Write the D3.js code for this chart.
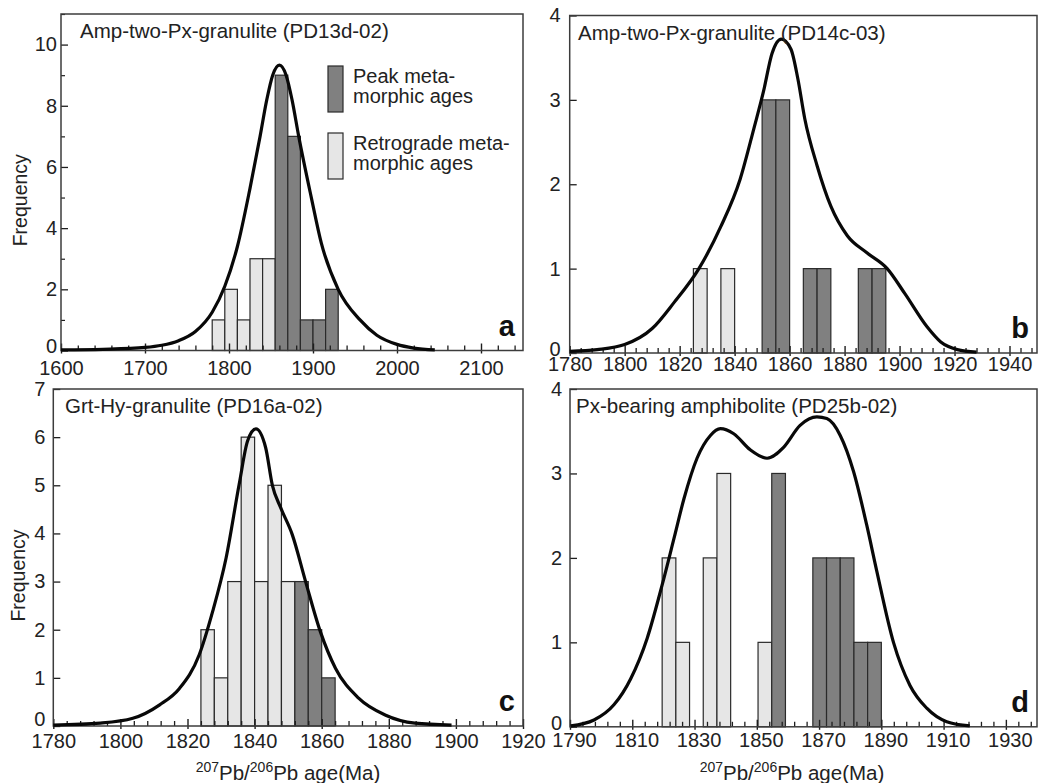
<!DOCTYPE html>
<html>
<head>
<meta charset="utf-8">
<script src="https://cdn.jsdelivr.net/npm/d3@7"></script>
<style>
  html, body { margin: 0; padding: 0; background: #fff; }
  svg { display: block; font-family: "Liberation Sans", Arial, sans-serif; }
</style>
</head>
<body>
<script>
// ---------- Panel a: Amp-two-Px-granulite (PD13d-02) ----------
const titleA = "Amp-two-Px-granulite (PD13d-02)";
const binStartA = [1780, 1795, 1810, 1825, 1840, 1855, 1870, 1885, 1900, 1915];
const binWidthA = 15;
const countA = [1, 2, 1, 3, 3, 9, 7, 1, 1, 2];
const typeA = ["R", "R", "R", "R", "R", "P", "P", "P", "P", "P"];
const curveAgeA = [1600, 1650, 1700, 1720, 1740, 1760, 1780, 1795, 1810, 1825, 1837, 1845, 1852, 1860, 1868, 1875, 1883, 1898, 1910, 1930, 1956, 1976, 2000, 2020, 2045];
const curveFreqA = [0.02, 0.04, 0.1, 0.17, 0.32, 0.62, 1.25, 2.1, 3.4, 5.3, 7.0, 8.2, 9.0, 9.33, 9.0, 8.2, 7.0, 5.0, 3.5, 2.0, 1.0, 0.5, 0.2, 0.08, 0.02];
const xTicksA = [1600, 1700, 1800, 1900, 2000, 2100];
const yTicksA = [0, 2, 4, 6, 8, 10];

// ---------- Panel b: Amp-two-Px-granulite (PD14c-03) ----------
const titleB = "Amp-two-Px-granulite (PD14c-03)";
const binStartB = [1825, 1835, 1850, 1855, 1865, 1870, 1885, 1890];
const binWidthB = 5;
const countB = [1, 1, 3, 3, 1, 1, 1, 1];
const typeB = ["R", "R", "P", "P", "P", "P", "P", "P"];
const curveAgeB = [1780, 1790, 1800, 1810, 1818, 1827, 1835, 1842, 1847, 1850.5, 1853.6, 1857, 1860.5, 1863, 1865.5, 1870, 1875, 1881, 1888, 1895.5, 1902, 1910, 1915, 1921, 1928];
const curveFreqB = [0.02, 0.04, 0.1, 0.29, 0.6, 1.0, 1.5, 2.06, 2.66, 3.1, 3.55, 3.72, 3.6, 3.25, 2.78, 2.22, 1.74, 1.39, 1.19, 1.0, 0.7, 0.31, 0.13, 0.04, 0.01];
const xTicksB = [1780, 1800, 1820, 1840, 1860, 1880, 1900, 1920, 1940];
const yTicksB = [0, 1, 2, 3, 4];

// ---------- Panel c: Grt-Hy-granulite (PD16a-02) ----------
const titleC = "Grt-Hy-granulite (PD16a-02)";
const binStartC = [1824, 1828, 1832, 1836, 1840, 1844, 1848, 1852, 1856, 1860];
const binWidthC = 4;
const countC = [2, 1, 3, 6, 3, 5, 3, 3, 2, 1];
const typeC = ["R", "R", "R", "R", "R", "R", "R", "P", "P", "P"];
const curveAgeC = [1780, 1794, 1803.7, 1811.7, 1817.6, 1823.5, 1827.5, 1831.5, 1835.4, 1837.9, 1840.4, 1843.3, 1845.3, 1847.8, 1851.2, 1855.2, 1859.6, 1864.1, 1871, 1878.9, 1887.8, 1898.7];
const curveFreqC = [0.02, 0.06, 0.16, 0.44, 0.78, 1.48, 2.38, 3.49, 5.02, 5.92, 6.17, 5.78, 5.0, 4.53, 3.98, 3.0, 1.96, 1.2, 0.58, 0.23, 0.06, 0.02];
const xTicksC = [1780, 1800, 1820, 1840, 1860, 1880, 1900, 1920];
const yTicksC = [0, 1, 2, 3, 4, 5, 6, 7];

// ---------- Panel d: Px-bearing amphibolite (PD25b-02) ----------
const titleD = "Px-bearing amphibolite (PD25b-02)";
const binStartD = [1819.6, 1824.0, 1832.8, 1837.2, 1850.4, 1854.8, 1868.0, 1872.4, 1876.8, 1881.2, 1885.6];
const binWidthD = 4.4;
const countD = [2, 1, 2, 3, 1, 3, 2, 2, 2, 1, 1];
const typeD = ["R", "R", "R", "R", "R", "P", "P", "P", "P", "P", "P"];
const curveAgeD = [1790.2, 1797.7, 1804.1, 1809.5, 1814.8, 1819.6, 1823.4, 1826.6, 1830.8, 1835.1, 1838.3, 1842.6, 1847.9, 1853.3, 1858.6, 1863.9, 1869.3, 1872.5, 1876.8, 1881.1, 1885.3, 1888.5, 1893.9, 1899.2, 1904.6, 1911, 1918.4];
const curveFreqD = [0.01, 0.08, 0.26, 0.57, 1.05, 1.68, 2.23, 2.7, 3.18, 3.45, 3.53, 3.47, 3.28, 3.18, 3.31, 3.57, 3.67, 3.65, 3.45, 3.02, 2.39, 1.85, 1.0, 0.49, 0.22, 0.06, 0.01];
const xTicksD = [1790, 1810, 1830, 1850, 1870, 1890, 1910, 1930];
const yTicksD = [0, 1, 2, 3, 4];

// Legend entries and shared axis captions
const legendLabels = [["Peak meta-", "morphic ages"], ["Retrograde meta-", "morphic ages"]];
const legendTypes = ["P", "R"];
const yAxisTitle = "Frequency";

const FILL = { P: "#808080", R: "#e6e6e6" };
const INK = "#1e1e1e";

const svg = d3.select("body").append("svg")
  .attr("width", 1038).attr("height", 783);
svg.append("rect").attr("width", 1038).attr("height", 783).attr("fill", "#fff");

const panels = [
  { letter: "a", title: titleA, starts: binStartA, width: binWidthA, counts: countA, types: typeA,
    cx: curveAgeA, cy: curveFreqA, xTicks: xTicksA, yTicks: yTicksA,
    xDomain: [1600, 2150], yDomain: [0, 11], left: 61, right: 523, top: 14, bottom: 350.5,
    minorX: 20, minorY: 1, xPad: 10, yPad: 4, zeroShift: -4, titleX: 80,
    freqX: 27, xLabelShift: 0, legend: true },
  { letter: "b", title: titleB, starts: binStartB, width: binWidthB, counts: countB, types: typeB,
    cx: curveAgeB, cy: curveFreqB, xTicks: xTicksB, yTicks: yTicksB,
    xDomain: [1780, 1950], yDomain: [0, 4], left: 569.7, right: 1037, top: 15.5, bottom: 353,
    minorX: 4, minorY: 0, xPad: 4, yPad: 9, zeroShift: -4, titleX: 578, xLabelShift: 0 },
  { letter: "c", title: titleC, starts: binStartC, width: binWidthC, counts: countC, types: typeC,
    cx: curveAgeC, cy: curveFreqC, xTicks: xTicksC, yTicks: yTicksC,
    xDomain: [1780, 1920], yDomain: [0, 7], left: 53.3, right: 523, top: 389, bottom: 726,
    minorX: 4, minorY: 0, xPad: 8, yPad: 8, zeroShift: -7, titleX: 65,
    freqX: 25, xLabelShift: 0, xTitleX: 288 },
  { letter: "d", title: titleD, starts: binStartD, width: binWidthD, counts: countD, types: typeD,
    cx: curveAgeD, cy: curveFreqD, xTicks: xTicksD, yTicks: yTicksD,
    xDomain: [1790, 1940], yDomain: [0, 4], left: 570, right: 1037, top: 389, bottom: 726.8,
    minorX: 4, minorY: 0, xPad: 6, yPad: 8, zeroShift: -4, titleX: 576,
    xLabelShift: 4, xTitleX: 792 }
];

panels.forEach(p => {
  const x = d3.scaleLinear().domain(p.xDomain).range([p.left, p.right]);
  const y = d3.scaleLinear().domain(p.yDomain).range([p.bottom, p.top]);
  const g = svg.append("g");

  // histogram bars
  const bars = p.starts.map((s, i) => ({ s, n: p.counts[i], t: p.types[i] }));
  g.append("g").selectAll("rect").data(bars).join("rect")
    .attr("x", d => x(d.s))
    .attr("y", d => y(d.n))
    .attr("width", d => x(d.s + p.width) - x(d.s))
    .attr("height", d => y(0) - y(d.n))
    .attr("fill", d => FILL[d.t])
    .attr("stroke", "#2a2a2a")
    .attr("stroke-width", 1.2);

  // minor x ticks (inward)
  const minorVals = d3.range(p.xDomain[0], p.xDomain[1] + 1e-6, p.minorX)
    .filter(v => !p.xTicks.includes(v));
  g.append("g")
    .attr("transform", `translate(0,${p.bottom})`)
    .call(d3.axisBottom(x).tickValues(minorVals).tickSizeInner(-5).tickSizeOuter(0).tickFormat(""))
    .call(a => a.select(".domain").remove())
    .call(a => a.selectAll("line").attr("stroke", INK).attr("stroke-width", 1.3));

  // major x ticks with labels
  g.append("g")
    .attr("transform", `translate(0,${p.bottom})`)
    .call(d3.axisBottom(x).tickValues(p.xTicks).tickSizeInner(-7).tickSizeOuter(0)
      .tickPadding(p.xPad).tickFormat(d3.format("d")))
    .call(a => a.select(".domain").remove())
    .call(a => a.selectAll("line").attr("y1", 3).attr("y2", -7).attr("stroke", INK).attr("stroke-width", 1.4))
    .call(a => a.selectAll("text").attr("font-size", 20).attr("fill", "#222")
      .attr("font-family", "Liberation Sans, Arial, sans-serif")
      .attr("dx", p.xLabelShift));

  // minor y ticks
  if (p.minorY) {
    const minorY = d3.range(p.yDomain[0], p.yDomain[1] + 1e-6, p.minorY)
      .filter(v => !p.yTicks.includes(v));
    g.append("g")
      .attr("transform", `translate(${p.left},0)`)
      .call(d3.axisLeft(y).tickValues(minorY).tickSizeInner(-4).tickSizeOuter(0).tickFormat(""))
      .call(a => a.select(".domain").remove())
      .call(a => a.selectAll("line").attr("stroke", INK).attr("stroke-width", 1.2));
  }

  // major y ticks with labels
  g.append("g")
    .attr("transform", `translate(${p.left},0)`)
    .call(d3.axisLeft(y).tickValues(p.yTicks).tickSizeInner(-7).tickSizeOuter(0)
      .tickPadding(p.yPad).tickFormat(d3.format("d")))
    .call(a => a.select(".domain").remove())
    .call(a => a.selectAll("line").attr("stroke", INK).attr("stroke-width", 1.3))
    .call(a => a.selectAll("text").attr("font-size", 20).attr("fill", "#222")
      .attr("font-family", "Liberation Sans, Arial, sans-serif")
      .attr("transform", d => d === 0 ? `translate(0,${p.zeroShift})` : null));

  // frame
  g.append("rect")
    .attr("x", p.left).attr("y", p.top)
    .attr("width", p.right - p.left).attr("height", p.bottom - p.top)
    .attr("fill", "none").attr("stroke", "#3c3c3c").attr("stroke-width", 1.5);

  // probability curve
  const pts = p.cx.map((a, i) => [a, p.cy[i]]);
  g.append("path")
    .datum(pts)
    .attr("d", d3.line().x(d => x(d[0])).y(d => y(d[1])).curve(d3.curveMonotoneX))
    .attr("fill", "none")
    .attr("stroke", "#080808")
    .attr("stroke-width", 3.2)
    .attr("stroke-linejoin", "round");

  // sample title
  g.append("text")
    .attr("x", p.titleX)
    .attr("y", p.top + 24)
    .attr("font-size", 20.5).attr("fill", "#222")
    .text(p.title);

  // panel letter
  g.append("text")
    .attr("x", p.right - 8).attr("y", p.bottom - 15)
    .attr("text-anchor", "end")
    .attr("font-size", 29).attr("font-weight", "bold").attr("fill", "#111")
    .text(p.letter);

  if (p.freqX) {
    const cyMid = (p.top + p.bottom) / 2 + 18;
    g.append("text")
      .attr("transform", `translate(${p.freqX},${cyMid}) rotate(-90)`)
      .attr("text-anchor", "middle")
      .attr("font-size", 19.5).attr("fill", "#222")
      .text(yAxisTitle);
  }

  if (p.xTitleX) {
    const t = g.append("text")
      .attr("x", p.xTitleX)
      .attr("y", 780)
      .attr("text-anchor", "middle")
      .attr("font-size", 20.5).attr("fill", "#222");
    t.append("tspan").attr("font-size", 14).attr("dy", -8).text("207");
    t.append("tspan").attr("dy", 8).text("Pb/");
    t.append("tspan").attr("font-size", 14).attr("dy", -8).text("206");
    t.append("tspan").attr("dy", 8).text("Pb age(Ma)");
  }

  if (p.legend) {
    const lg = g.append("g");
    legendTypes.forEach((tp, i) => {
      const top = 66 + i * 67;
      lg.append("rect")
        .attr("x", 328).attr("y", top).attr("width", 15).attr("height", 46)
        .attr("fill", FILL[tp]).attr("stroke", "#2a2a2a").attr("stroke-width", 1.2);
      legendLabels[i].forEach((line, j) => {
        lg.append("text")
          .attr("x", 353).attr("y", top + 17 + j * 20)
          .attr("font-size", 20).attr("fill", "#222")
          .text(line);
      });
    });
  }
});
</script>
</body>
</html>
